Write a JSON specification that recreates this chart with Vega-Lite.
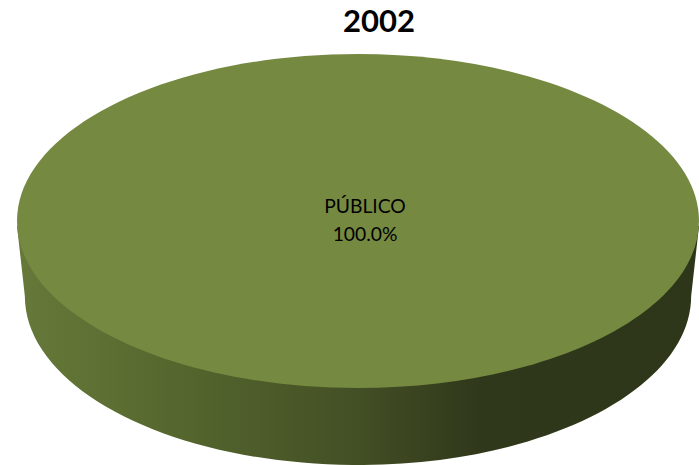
{"$schema":"https://vega.github.io/schema/vega-lite/v6.json","width":699,"height":465,"autosize":{"type":"none"},"padding":0,"background":"white","view":{"stroke":null},
"data":{"values":[{"sector":"PÚBLICO","share":100,"label":"PÚBLICO\n100.0%","year":"2002"}]},
"encoding":{"x":{"field":"share","type":"quantitative","scale":{"domain":[0,200],"range":[17,699]},"axis":null},"y":{"field":"share","type":"quantitative","scale":{"domain":[0,200],"range":[388,54]},"axis":null}},
"layer":[
{"mark":{"type":"point","filled":true,"size":465124,"opacity":1,"shape":"M-1,0.015 L-0.977,0.22 A0.977,0.4956 0 0 0 0.977,0.22 L1,0.015 Z","fill":{"gradient":"linear","x1":0,"y1":0,"x2":1,"y2":0,"stops":[{"offset":0,"color":"#66793A"},{"offset":0.12,"color":"#5E7033"},{"offset":0.25,"color":"#54652D"},{"offset":0.5,"color":"#434F25"},{"offset":0.68,"color":"#2F381A"},{"offset":1,"color":"#2D3618"}]}}},
{"mark":{"type":"point","filled":true,"size":465124,"opacity":1,"shape":"M-1,0 A1,0.4897 0 1 1 1,0 A1,0.4897 0 1 1 -1,0 Z","fill":"#758941"}},
{"mark":{"type":"text","font":"Lato","fontSize":19.3,"color":"#000000","lineBreak":"\n","lineHeight":28,"align":"center","baseline":"middle","dy":-14,"dx":7},"encoding":{"text":{"field":"label"}}},
{"mark":{"type":"text","font":"Lato","fontSize":31,"fontWeight":"bold","color":"#000000","align":"center","baseline":"alphabetic"},"encoding":{"x":{"datum":106.16,"type":"quantitative"},"y":{"datum":213.4,"type":"quantitative"},"text":{"field":"year"}}}
]}
